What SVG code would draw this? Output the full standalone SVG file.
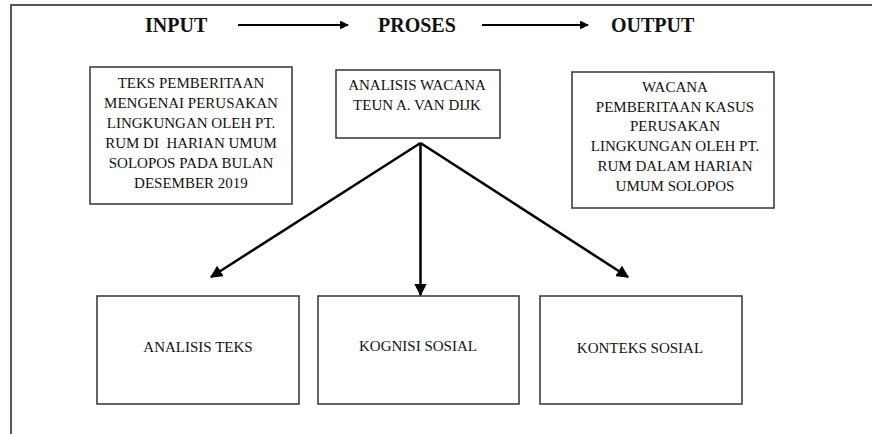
<svg xmlns="http://www.w3.org/2000/svg" width="872" height="434" viewBox="0 0 872 434">
<style>
.frame{stroke:#555;stroke-width:2;fill:none}
.box{fill:#fff;stroke:#333;stroke-width:1.5}
.t{font-family:"Liberation Serif","Times New Roman",serif;font-size:15px;fill:#111;text-anchor:middle}
.h{font-family:"Liberation Serif","Times New Roman",serif;font-size:20px;font-weight:bold;fill:#111}
.ln{stroke:#000;fill:none}
</style>
<defs>
<marker id="ah" viewBox="0 0 10 10" refX="9" refY="5" markerWidth="5" markerHeight="5" markerUnits="strokeWidth" orient="auto">
<path d="M0,0 L10,5 L0,10 z" fill="#000"/>
</marker>
<marker id="ah2" viewBox="0 0 10 10" refX="9" refY="5" markerWidth="4" markerHeight="4" markerUnits="strokeWidth" orient="auto">
<path d="M0,0 L10,5 L0,10 z" fill="#000"/>
</marker>
</defs>
<rect width="872" height="434" fill="#fff"/>
<path class="frame" d="M11,434 L11,5 L872,5"/>
<g id="header">
<text class="h" x="145" y="32">INPUT</text>
<text class="h" x="378" y="32">PROSES</text>
<text class="h" x="611" y="32">OUTPUT</text>
</g>
<g id="input">
<rect class="box" x="90" y="67" width="202" height="137"/>
<text class="t" x="191" y="88">TEKS PEMBERITAAN</text>
<text class="t" x="191" y="108">MENGENAI PERUSAKAN</text>
<text class="t" x="191" y="128">LINGKUNGAN OLEH PT.</text>
<text class="t" x="191" y="148" xml:space="preserve">RUM DI  HARIAN UMUM</text>
<text class="t" x="191" y="168">SOLOPOS PADA BULAN</text>
<text class="t" x="191" y="188">DESEMBER 2019</text>
</g>
<g id="proses">
<rect class="box" x="336" y="70" width="164" height="68"/>
<text class="t" x="417" y="90">ANALISIS WACANA</text>
<text class="t" x="417" y="110">TEUN A. VAN DIJK</text>
</g>
<g id="output">
<rect class="box" x="572" y="72" width="202" height="136"/>
<text class="t" x="675" y="92">WACANA</text>
<text class="t" x="675" y="112">PEMBERITAAN KASUS</text>
<text class="t" x="675" y="131">PERUSAKAN</text>
<text class="t" x="675" y="151">LINGKUNGAN OLEH PT.</text>
<text class="t" x="675" y="171">RUM DALAM HARIAN</text>
<text class="t" x="675" y="191">UMUM SOLOPOS</text>
</g>
<g id="analisis-teks">
<rect class="box" x="97" y="296" width="202" height="108"/>
<text class="t" x="198" y="352">ANALISIS TEKS</text>
</g>
<g id="kognisi-sosial">
<rect class="box" x="318" y="296" width="201" height="108"/>
<text class="t" x="418" y="351">KOGNISI SOSIAL</text>
</g>
<g id="konteks-sosial">
<rect class="box" x="540" y="296" width="202" height="108"/>
<text class="t" x="640" y="353">KONTEKS SOSIAL</text>
</g>
<g id="connectors">
<line class="ln" x1="238" y1="25" x2="348" y2="25" stroke-width="2.2" marker-end="url(#ah2)"/>
<line class="ln" x1="482" y1="25" x2="588" y2="25" stroke-width="2.2" marker-end="url(#ah2)"/>
<line class="ln" x1="420.5" y1="143" x2="211" y2="277" stroke-width="2.5" marker-end="url(#ah)"/>
<line class="ln" x1="420.5" y1="143" x2="420.5" y2="295" stroke-width="2.5" marker-end="url(#ah)"/>
<line class="ln" x1="420.5" y1="143" x2="628" y2="277" stroke-width="2.5" marker-end="url(#ah)"/>
</g>
</svg>
